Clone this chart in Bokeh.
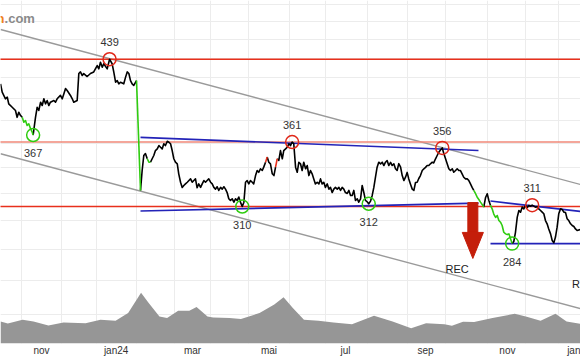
from bokeh.plotting import figure
from bokeh.models import Range1d, LinearScale, FixedTicker
from bokeh.core.properties import value
from bokeh.embed import file_html
from bokeh.resources import INLINE

# trading-day index (0 = mid Nov 2023) and closing prices
day = [-22.5, -21.6, -19.8, -18.8, -18.0, -16.1, -14.3, -13.4, -12.5, -11.5, -10.6, -9.7, -8.8, -7.9, -7.0, -6.0, -5.1, -4.6,
       -3.3, -2.4, -1.5, -0.5, 0.4, 1.3, 2.2, 3.1, 4.0, 4.9, 6.8, 7.7, 8.6, 10.4, 11.4, 12.3, 13.2, 14.1, 15.9, 16.9, 17.7, 19.6,
       20.5, 21.4, 22.4, 23.2, 25.1, 26.9, 28.7, 30.6, 31.5, 32.4, 33.4, 34.2, 36.1, 37.4, 38.8, 39.7, 40.7, 41.6, 42.5, 43.4,
       45.2, 46.2, 47.1, 48.0, 48.9, 49.8, 50.7, 52.2, 54.4, 55.3, 56.2, 57.1, 58.1, 59.0, 59.9, 60.8, 61.7, 62.6, 63.6, 64.5,
       65.4, 66.3, 67.2, 68.1, 69.1, 70.0, 70.9, 71.8, 72.7, 73.6, 74.6, 75.4, 76.4, 77.3, 78.2, 79.1, 80.1, 81.0, 81.9, 82.8,
       83.7, 84.6, 85.5, 86.4, 87.4, 88.3, 89.2, 90.1, 91.0, 91.9, 92.9, 93.8, 94.7, 95.6, 96.5, 97.4, 98.4, 99.3, 100.2, 101.1,
       102.0, 102.9, 103.8, 104.8, 105.7, 106.6, 107.5, 108.4, 109.3, 110.3, 111.2, 112.1, 113.0, 113.9, 114.8, 115.8, 116.6,
       117.6, 118.5, 119.4, 120.3, 121.3, 122.1, 123.1, 124.0, 124.9, 125.8, 126.8, 127.7, 128.6, 129.5, 130.4, 131.3, 132.3,
       133.1, 134.1, 135.0, 135.9, 136.8, 137.7, 138.6, 139.6, 140.5, 141.4, 142.3, 143.2, 144.1, 145.1, 146.0, 146.9, 147.8,
       148.7, 149.6, 150.5, 151.5, 152.4, 153.3, 154.2, 155.1, 156.0, 157.0, 157.9, 158.8, 159.7, 160.6, 161.5, 162.5, 163.4,
       164.3, 165.2, 166.1, 167.0, 168.0, 168.9, 169.8, 170.7, 171.6, 172.5, 173.5, 174.3, 175.3, 176.2, 177.1, 178.0, 178.9,
       179.8, 180.8, 181.7, 182.6, 183.5, 184.4, 185.3, 186.3, 187.2, 188.1, 189.0, 189.9, 190.8, 191.8, 192.7, 193.6, 194.5,
       195.4, 196.3, 197.3, 198.2, 199.1, 200.0, 200.9, 201.8, 202.7, 203.7, 204.6, 205.5, 206.4, 207.3, 208.2, 209.2, 210.1,
       211.0, 211.9, 212.8, 213.7, 214.7, 215.5, 216.5, 217.4, 218.3, 219.2, 220.2, 221.0, 222.0, 222.9, 223.8, 224.7, 225.7,
       226.5, 227.5, 228.4, 229.3, 230.2, 231.1, 232.0, 233.0, 233.9, 234.8, 235.7, 236.6, 237.5, 238.5, 239.4, 240.3, 241.2,
       242.1, 243.0, 244.0, 244.9, 245.8, 246.7, 247.6, 248.5, 249.5, 250.4, 251.3, 252.2, 253.1, 254.0, 255.0, 255.9, 256.8,
       257.7, 258.6, 259.5, 260.4, 261.4, 262.3, 263.2, 264.1, 265.0, 266.0, 266.9, 267.8, 268.7, 269.6, 270.5, 271.4, 272.4,
       273.2, 274.2, 275.1, 276.0, 276.9, 277.8, 278.7, 279.7, 280.6, 281.5, 282.4, 283.3, 284.2, 285.2, 286.1, 287.0, 287.9,
       288.8, 289.7, 290.7, 291.6, 292.5, 293.4, 294.3, 296.2]
close = [414.2, 406.1, 399.8, 401.3, 395.1, 391.9, 388.9, 382.7, 387.3, 384.3, 382.7, 378.3, 379.8, 375.4, 376.9, 372.5, 369.5, 367.0,
         382.7, 391.9, 388.9, 396.6, 393.5, 399.8, 395.1, 398.2, 393.5, 396.6, 398.2, 396.6, 399.8, 403.0, 399.8, 404.6, 409.6, 407.7, 403.0, 399.8, 396.6, 398.2,
         424.4, 426.0, 422.4, 424.4, 421.4, 424.4, 426.0, 432.5, 429.1, 435.9, 430.8, 434.3, 429.1, 439.0, 434.3, 426.0, 415.8, 417.4, 414.2, 415.8,
         414.2, 420.8, 426.0, 424.4, 417.4, 414.2, 412.6, 417.4, 322.0, 337.5, 349.7, 351.3, 347.0, 344.2, 344.2, 347.0, 349.7, 353.8, 355.2, 358.0,
         356.6, 355.2, 359.5, 358.0, 361.7, 360.8, 359.5, 353.8, 347.0, 344.2, 342.9, 334.9, 328.3, 324.3, 325.8, 327.0, 328.3, 329.6, 330.9, 328.3,
         329.6, 330.9, 324.0, 327.0, 324.3, 327.0, 329.6, 328.3, 329.6, 330.9, 328.3, 327.0, 324.3, 323.0, 324.8, 322.0, 324.3, 323.0, 324.8, 323.0,
         320.4, 315.7, 314.5, 315.7, 313.2, 315.7, 314.5, 317.0, 313.2, 310.0, 313.2, 328.3, 329.6, 327.0, 329.6, 328.3, 327.0,
         333.5, 337.5, 336.1, 338.9, 337.5, 340.2, 344.2, 348.4, 344.2, 342.9, 334.9, 333.5, 340.2, 347.0, 345.6, 353.8, 347.0,
         353.8, 355.2, 356.6, 359.5, 358.0, 361.0, 359.5, 340.2, 336.1, 344.2, 342.9, 337.5, 344.2, 338.9, 341.5, 333.5, 337.5,
         334.9, 330.9, 327.0, 328.3, 327.0, 330.9, 327.0, 328.3, 324.3, 327.0, 323.0, 324.3, 320.4, 323.0, 324.3, 323.0, 324.3,
         322.0, 324.3, 323.0, 320.4, 319.7, 322.0, 318.2, 318.2, 322.0, 314.5, 315.7, 313.2, 315.7, 325.8, 320.4, 314.5, 313.5,
         312.0, 314.0, 318.2, 324.3, 332.2, 340.2, 344.2, 342.9, 344.2, 341.5, 344.2, 345.6, 341.5, 344.0, 341.5, 342.9, 338.9,
         337.5, 343.0, 340.2, 333.5, 329.6, 332.2, 336.0, 330.9, 327.0, 323.0, 322.0, 328.1, 328.3, 331.2, 333.5, 337.5, 338.9,
         340.0, 341.5, 341.5, 342.9, 344.2, 343.6, 347.0, 349.7, 352.4, 354.3, 356.0, 351.6, 347.0, 343.0, 338.9, 337.5, 338.9,
         336.1, 337.5, 338.9, 337.5, 337.5, 334.9, 332.2, 330.9, 330.9, 329.6, 327.0, 324.3, 322.0, 319.5, 316.9, 315.2, 313.2,
         311.5, 309.5, 316.7, 319.5, 314.5, 310.8, 308.3, 304.5, 302.1, 303.5, 299.9, 298.7, 296.4, 291.7, 290.6, 290.1, 290.6,
         287.2, 284.0, 285.4, 291.5, 302.3, 307.1, 305.9, 309.5, 308.3, 310.8, 309.3, 310.8, 310.2, 311.0, 310.3, 309.5, 310.0,
         308.3, 307.1, 305.9, 304.7, 299.9, 297.6, 294.0, 290.6, 286.1, 284.5, 288.4, 295.2, 304.7, 308.3, 307.8, 305.9, 305.7,
         301.2, 299.9, 297.6, 296.4, 295.7, 294.0, 292.9, 293.6]

# signal periods (trading-day index ranges)
sell_periods = [(-10.6, -4.6), (52.2, 54.4), (58.1, 59.9), (237.5, 243.0), (246.7, 258.6)]
buy_periods = [(123.1, 124.0), (128.6, 129.5)]

# pivots
high_day = [37.4, 137.7, 220.2, 269.6]
high_price = [439, 361, 356, 311]
low_day = [-4.6, 110.3, 179.8, 258.6]
low_price = [367, 310, 312, 284]

# horizontal levels
level_main = [439, 310]
level_minor = [361]

# trendlines: (days, prices)
channel_upper = ([-22.5, 296.2], [470.9, 326.5])
channel_lower = ([-22.5, 296.2], [351.1, 243.5])
range_top = ([54.4, 240.1], [365.0, 353.8])
range_bottom = ([54.4, 240.1], [306.7, 312.5])
wedge_top = ([246.7, 296.2], [314.0, 306.4])
wedge_base = ([246.7, 296.2], [284.0, 284.0])

# sell arrow (day, top, head, tip) and signal labels
arrow_day = 237.0
arrow_top = 312.9
arrow_head = 291.6
arrow_tip = 274.2
rec_day = [228.4, 297.8]
rec_price = [267.6, 257.9]

# volume
vol_day = [-22.5, -18.5, -10.4, -4.4, 3.8, 12.1, 24.2, 32.4, 40.7, 47.6, 54.7, 58.8, 64.8, 69.0, 75.1, 81.2, 85.2, 91.2,
           94.3, 103.3, 109.6, 119.8, 127.9, 133.0, 138.1, 144.2, 152.2, 160.4, 170.6, 182.7, 192.9, 203.1, 211.3, 221.4,
           225.5, 231.6, 237.7, 247.8, 260.0, 266.1, 274.2, 282.4, 288.5, 296.2]
vol = [2.2, 2.0, 2.37, 2.2, 1.8, 2.1, 2.03, 2.37, 2.27, 3.05, 5.07, 4.07, 2.71, 2.54, 3.28, 3.28, 3.66, 2.71,
       2.61, 2.54, 2.44, 3.05, 3.89, 4.63, 3.55, 2.37, 2.27, 2.1, 1.93, 2.77, 2.2, 1.53, 2.03, 1.93,
       1.77, 2.17, 2.14, 2.54, 2.97, 2.71, 2.27, 2.97, 2.2, 1.97]

tick_days = [0, 41, 83, 125, 167, 211, 256, 294]
tick_labels = ["nov", "jan24", "mar", "mai", "jul", "sep", "nov", "jan"]
month_start_days = [-11, 11, 30, 52, 73, 93, 114, 136, 156, 179, 201, 222, 245, 266, 284]
price_grid = [240, 260, 280, 300, 320, 340, 360, 380, 400, 420, 440, 460, 480, 500]

FONT = "Liberation Sans"

p = figure(frame_width=580, frame_height=343, y_axis_type="log",
           x_range=Range1d(-22.53, 296.15), y_range=Range1d(224.3, 504.3),
           output_backend="svg", toolbar_location=None,
           min_border_left=0, min_border_right=0, min_border_top=0, min_border_bottom=0)
p.extra_y_ranges = {"vol": Range1d(0, 34.3)}
p.extra_y_scales = {"vol": LinearScale()}
p.outline_line_color = None
p.background_fill_color = "white"
p.border_fill_color = "white"
p.yaxis.visible = False

p.xaxis.ticker = FixedTicker(ticks=tick_days)
p.xaxis.major_label_overrides = {d: l for d, l in zip(tick_days, tick_labels)}
p.xaxis.major_tick_line_color = None
p.xaxis.major_tick_out = 0
p.xaxis.major_tick_in = 0
p.xaxis.minor_tick_line_color = None
p.xaxis.minor_tick_out = 0
p.xaxis.axis_line_color = None
p.xaxis.major_label_standoff = 1
p.xaxis.major_label_text_font = FONT
p.xaxis.major_label_text_font_size = "10px"
p.xaxis.major_label_text_color = "#333333"

p.xgrid.ticker = FixedTicker(ticks=month_start_days)
p.ygrid.ticker = FixedTicker(ticks=price_grid)
p.xgrid.grid_line_color = "#ececec"
p.ygrid.grid_line_color = "#ececec"

# volume
p.varea(x=vol_day, y1=[0] * len(vol_day), y2=vol, y_range_name="vol", fill_color="#969696")

# watermark
p.text(x=[-20.3], y=[483.0], text=["n"], text_font=value(FONT), text_font_style="bold",
       text_font_size="13px", text_color="#f08020", text_baseline="middle", text_align="right")
p.text(x=[-20.3], y=[483.0], text=[".com"], text_font=value(FONT), text_font_style="bold",
       text_font_size="13px", text_color="#8a8a8a", text_baseline="middle", text_align="left")

# channel
for xs, ys in (channel_upper, channel_lower):
    p.line(xs, ys, line_color="#9a9a9a", line_width=1.4)

# horizontal levels
for lv in level_main:
    p.line([-30, 300], [lv, lv], line_color="#e8301c", line_width=1.4)
for lv in level_minor:
    p.line([-30, 300], [lv, lv], line_color="#f08878", line_width=1.4)

# blue trendlines
for xs, ys in (range_top, range_bottom, wedge_top, wedge_base):
    p.line(xs, ys, line_color="#2323b8", line_width=1.6)

# price line split by signal state
def state(t):
    for a, b in sell_periods:
        if a <= t <= b:
            return "sell"
    for a, b in buy_periods:
        if a <= t <= b:
            return "buy"
    return "none"

runs = {"none": ([], []), "sell": ([], []), "buy": ([], [])}
cur = None
for i in range(len(day) - 1):
    s = state((day[i] + day[i + 1]) / 2)
    if s != cur:
        runs[s][0].append([day[i]])
        runs[s][1].append([close[i]])
        cur = s
    runs[s][0][-1].append(day[i + 1])
    runs[s][1][-1].append(close[i + 1])

colors = {"none": "#000000", "sell": "#2fcc10", "buy": "#e8301c"}
for s, (xs, ys) in runs.items():
    if xs:
        p.multi_line(xs, ys, line_color=colors[s], line_width=1.6, line_join="round")

# arrow
sw = 2.75
hw = 5.8
p.quad(left=[arrow_day - sw], right=[arrow_day + sw], top=[arrow_top], bottom=[arrow_head],
       fill_color="#c41e0a", line_color="#c41e0a")
p.patch([arrow_day - hw, arrow_day + hw, arrow_day], [arrow_head, arrow_head, arrow_tip],
        fill_color="#c41e0a", line_color="#c41e0a")
p.text(x=rec_day, y=rec_price, text=["REC", "REC"], text_font=value(FONT), text_font_size="11px",
       text_color="#222222", text_align="center", text_baseline="middle")

# pivots
p.scatter(high_day, high_price, marker="circle", size=13, fill_color=None,
          line_color="#e0281a", line_width=1.5)
p.scatter(low_day, low_price, marker="circle", size=13, fill_color=None,
          line_color="#2fcc10", line_width=1.5)
p.text(x=high_day, y=high_price, text=[str(v) for v in high_price], y_offset=-17,
       text_font=value(FONT), text_font_size="11px", text_color="#333333",
       text_align="center", text_baseline="middle")
p.text(x=low_day, y=low_price, text=[str(v) for v in low_price], y_offset=18,
       text_font=value(FONT), text_font_size="11px", text_color="#333333",
       text_align="center", text_baseline="middle")

open("out.html", "w").write(file_html(p, INLINE))
